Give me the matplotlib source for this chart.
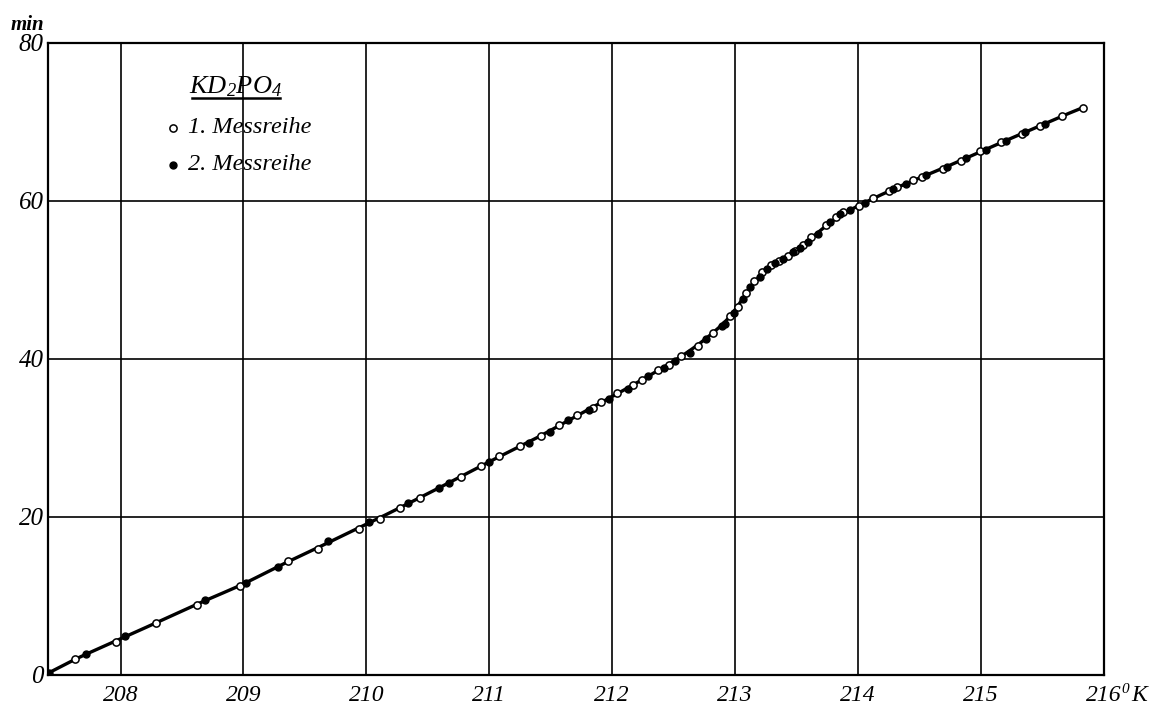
import numpy as np
import matplotlib
matplotlib.use("Agg")
import matplotlib.pyplot as plt

# --- data: temperature (K) vs. time (min) for KD2PO4 ---
series1_T = [207.63, 207.96, 208.29, 208.62, 208.97, 209.36, 209.61, 209.94, 210.11, 210.27,
             210.44, 210.77, 210.93, 211.08, 211.25, 211.42, 211.57, 211.71, 211.84, 211.91,
             212.04, 212.17, 212.24, 212.37, 212.46, 212.56, 212.70, 212.82, 212.96, 213.02,
             213.09, 213.15, 213.22, 213.29, 213.36, 213.43, 213.49, 213.55, 213.62, 213.74,
             213.82, 213.88, 214.01, 214.12, 214.25, 214.32, 214.45, 214.52, 214.69, 214.84,
             214.99, 215.16, 215.33, 215.48, 215.66, 215.83]
series1_t = [2.0, 4.2, 6.6, 8.9, 11.2, 14.4, 16.0, 18.5, 19.8, 21.1,
             22.4, 25.1, 26.5, 27.7, 29.0, 30.3, 31.6, 32.9, 33.8, 34.6,
             35.7, 36.7, 37.3, 38.6, 39.2, 40.4, 41.7, 43.3, 45.4, 46.6,
             48.3, 49.9, 51.0, 51.9, 52.4, 53.0, 53.7, 54.4, 55.4, 57.0,
             58.0, 58.6, 59.4, 60.4, 61.3, 61.7, 62.6, 63.0, 64.1, 65.1,
             66.3, 67.4, 68.5, 69.5, 70.8, 71.8]

series2_T = [207.42, 207.72, 208.04, 208.69, 209.02, 209.28, 209.69, 210.02, 210.34, 210.59,
             210.67, 211.00, 211.32, 211.49, 211.64, 211.81, 211.97, 212.13, 212.29, 212.42,
             212.51, 212.63, 212.76, 212.89, 212.92, 212.99, 213.06, 213.12, 213.20, 213.26,
             213.32, 213.39, 213.47, 213.53, 213.59, 213.67, 213.77, 213.85, 213.93, 214.06,
             214.28, 214.39, 214.55, 214.72, 214.88, 215.04, 215.20, 215.36, 215.52]
series2_t = [0.3, 2.7, 4.9, 9.5, 11.7, 13.7, 16.9, 19.4, 21.8, 23.7,
             24.3, 26.9, 29.4, 30.7, 32.3, 33.5, 34.9, 36.2, 37.9, 38.9,
             39.7, 40.8, 42.5, 44.2, 44.4, 45.8, 47.6, 49.1, 50.4, 51.4,
             52.2, 52.7, 53.5, 54.1, 54.8, 55.8, 57.3, 58.4, 58.9, 59.8,
             61.5, 62.2, 63.3, 64.3, 65.4, 66.5, 67.6, 68.7, 69.8]

x_ticks = [208, 209, 210, 211, 212, 213, 214, 215, 216]
y_ticks = [0, 20, 40, 60, 80]

serif = "Liberation Serif"
plt.rcParams["mathtext.fontset"] = "custom"
plt.rcParams["mathtext.rm"] = serif + ":italic"
plt.rcParams["mathtext.it"] = serif + ":italic"


def local_linear(xq, x, y):
    """Gaussian-weighted local linear regression; narrower window near the transition."""
    out = np.empty_like(xq)
    for i, x0 in enumerate(xq):
        h = 0.16 - 0.10 * np.exp(-((x0 - 213.2) / 0.55) ** 2)
        w = np.exp(-0.5 * ((x - x0) / h) ** 2)
        sw = w.sum()
        mx = (w * x).sum() / sw
        my = (w * y).sum() / sw
        vx = (w * (x - mx) ** 2).sum()
        b = (w * (x - mx) * (y - my)).sum() / vx if vx > 0 else 0.0
        out[i] = my + b * (x0 - mx)
    return out


fig = plt.figure(figsize=(11.49, 7.07), dpi=100)
ax = fig.add_axes([0.0418, 0.0453, 0.9190, 0.8940])

ax.set_xlim(207.41, 216.0)
ax.set_ylim(0, 80)

# grid
for xv in x_ticks[:-1]:
    ax.axvline(xv, color="black", lw=1.2, zorder=1)
for yv in y_ticks[1:-1]:
    ax.axhline(yv, color="black", lw=1.2, zorder=1)
for s in ax.spines.values():
    s.set_linewidth(1.6)

# smooth curve through both runs
T_all = np.array(series1_T + series2_T)
t_all = np.array(series1_t + series2_t)
T_grid = np.linspace(T_all.min(), T_all.max(), 600)
t_curve = local_linear(T_grid, T_all, t_all)
ax.plot(T_grid, t_curve, color="black", lw=2.4, zorder=3, solid_capstyle="round")

ax.plot(series1_T, series1_t, "o", ms=5.2, mfc="white", mec="black", mew=1.1, zorder=4)
ax.plot(series2_T, series2_t, "o", ms=5.0, mfc="black", mec="black", zorder=4)

# ticks
ax.tick_params(length=0)
ax.set_xticks(x_ticks)
ax.set_xticklabels([str(v) for v in x_ticks], fontfamily=serif, fontstyle="italic", fontsize=17)
ax.tick_params(axis="x", pad=7)
ax.set_yticks(y_ticks)
ax.set_yticklabels([str(v) for v in y_ticks], fontfamily=serif, fontstyle="italic", fontsize=18)
ax.tick_params(axis="y", pad=3)

ax.annotate("0", xy=(216.0, 0), xycoords=("data", "axes fraction"),
            xytext=(12.5, -6), textcoords="offset points", ha="left", va="top",
            fontfamily=serif, fontstyle="italic", fontsize=11, annotation_clip=False)
ax.annotate("K", xy=(216.0, 0), xycoords=("data", "axes fraction"),
            xytext=(20, -7.5), textcoords="offset points", ha="left", va="top",
            fontfamily=serif, fontstyle="italic", fontsize=17, annotation_clip=False)

fig.text(0.009, 0.965, "min", fontfamily=serif, fontstyle="italic", fontweight="bold",
         fontsize=15, ha="left", va="center")

# legend
ax.text(0.178, 0.930, "KD$_2$PO$_4$", transform=ax.transAxes, fontsize=19,
        fontfamily=serif, fontstyle="italic", ha="center", va="center")
ax.plot([0.136, 0.220], [0.913, 0.913], transform=ax.transAxes, color="black", lw=1.8)
ax.plot([0.118], [0.866], "o", transform=ax.transAxes, ms=5.2, mfc="white", mec="black", mew=1.1)
ax.plot([0.118], [0.807], "o", transform=ax.transAxes, ms=5.0, mfc="black", mec="black")
ax.text(0.133, 0.866, "1. Messreihe", transform=ax.transAxes, fontsize=17.5,
        fontfamily=serif, fontstyle="italic", ha="left", va="center")
ax.text(0.133, 0.807, "2. Messreihe", transform=ax.transAxes, fontsize=17.5,
        fontfamily=serif, fontstyle="italic", ha="left", va="center")

fig.savefig("out.png", dpi=100, facecolor="white")
